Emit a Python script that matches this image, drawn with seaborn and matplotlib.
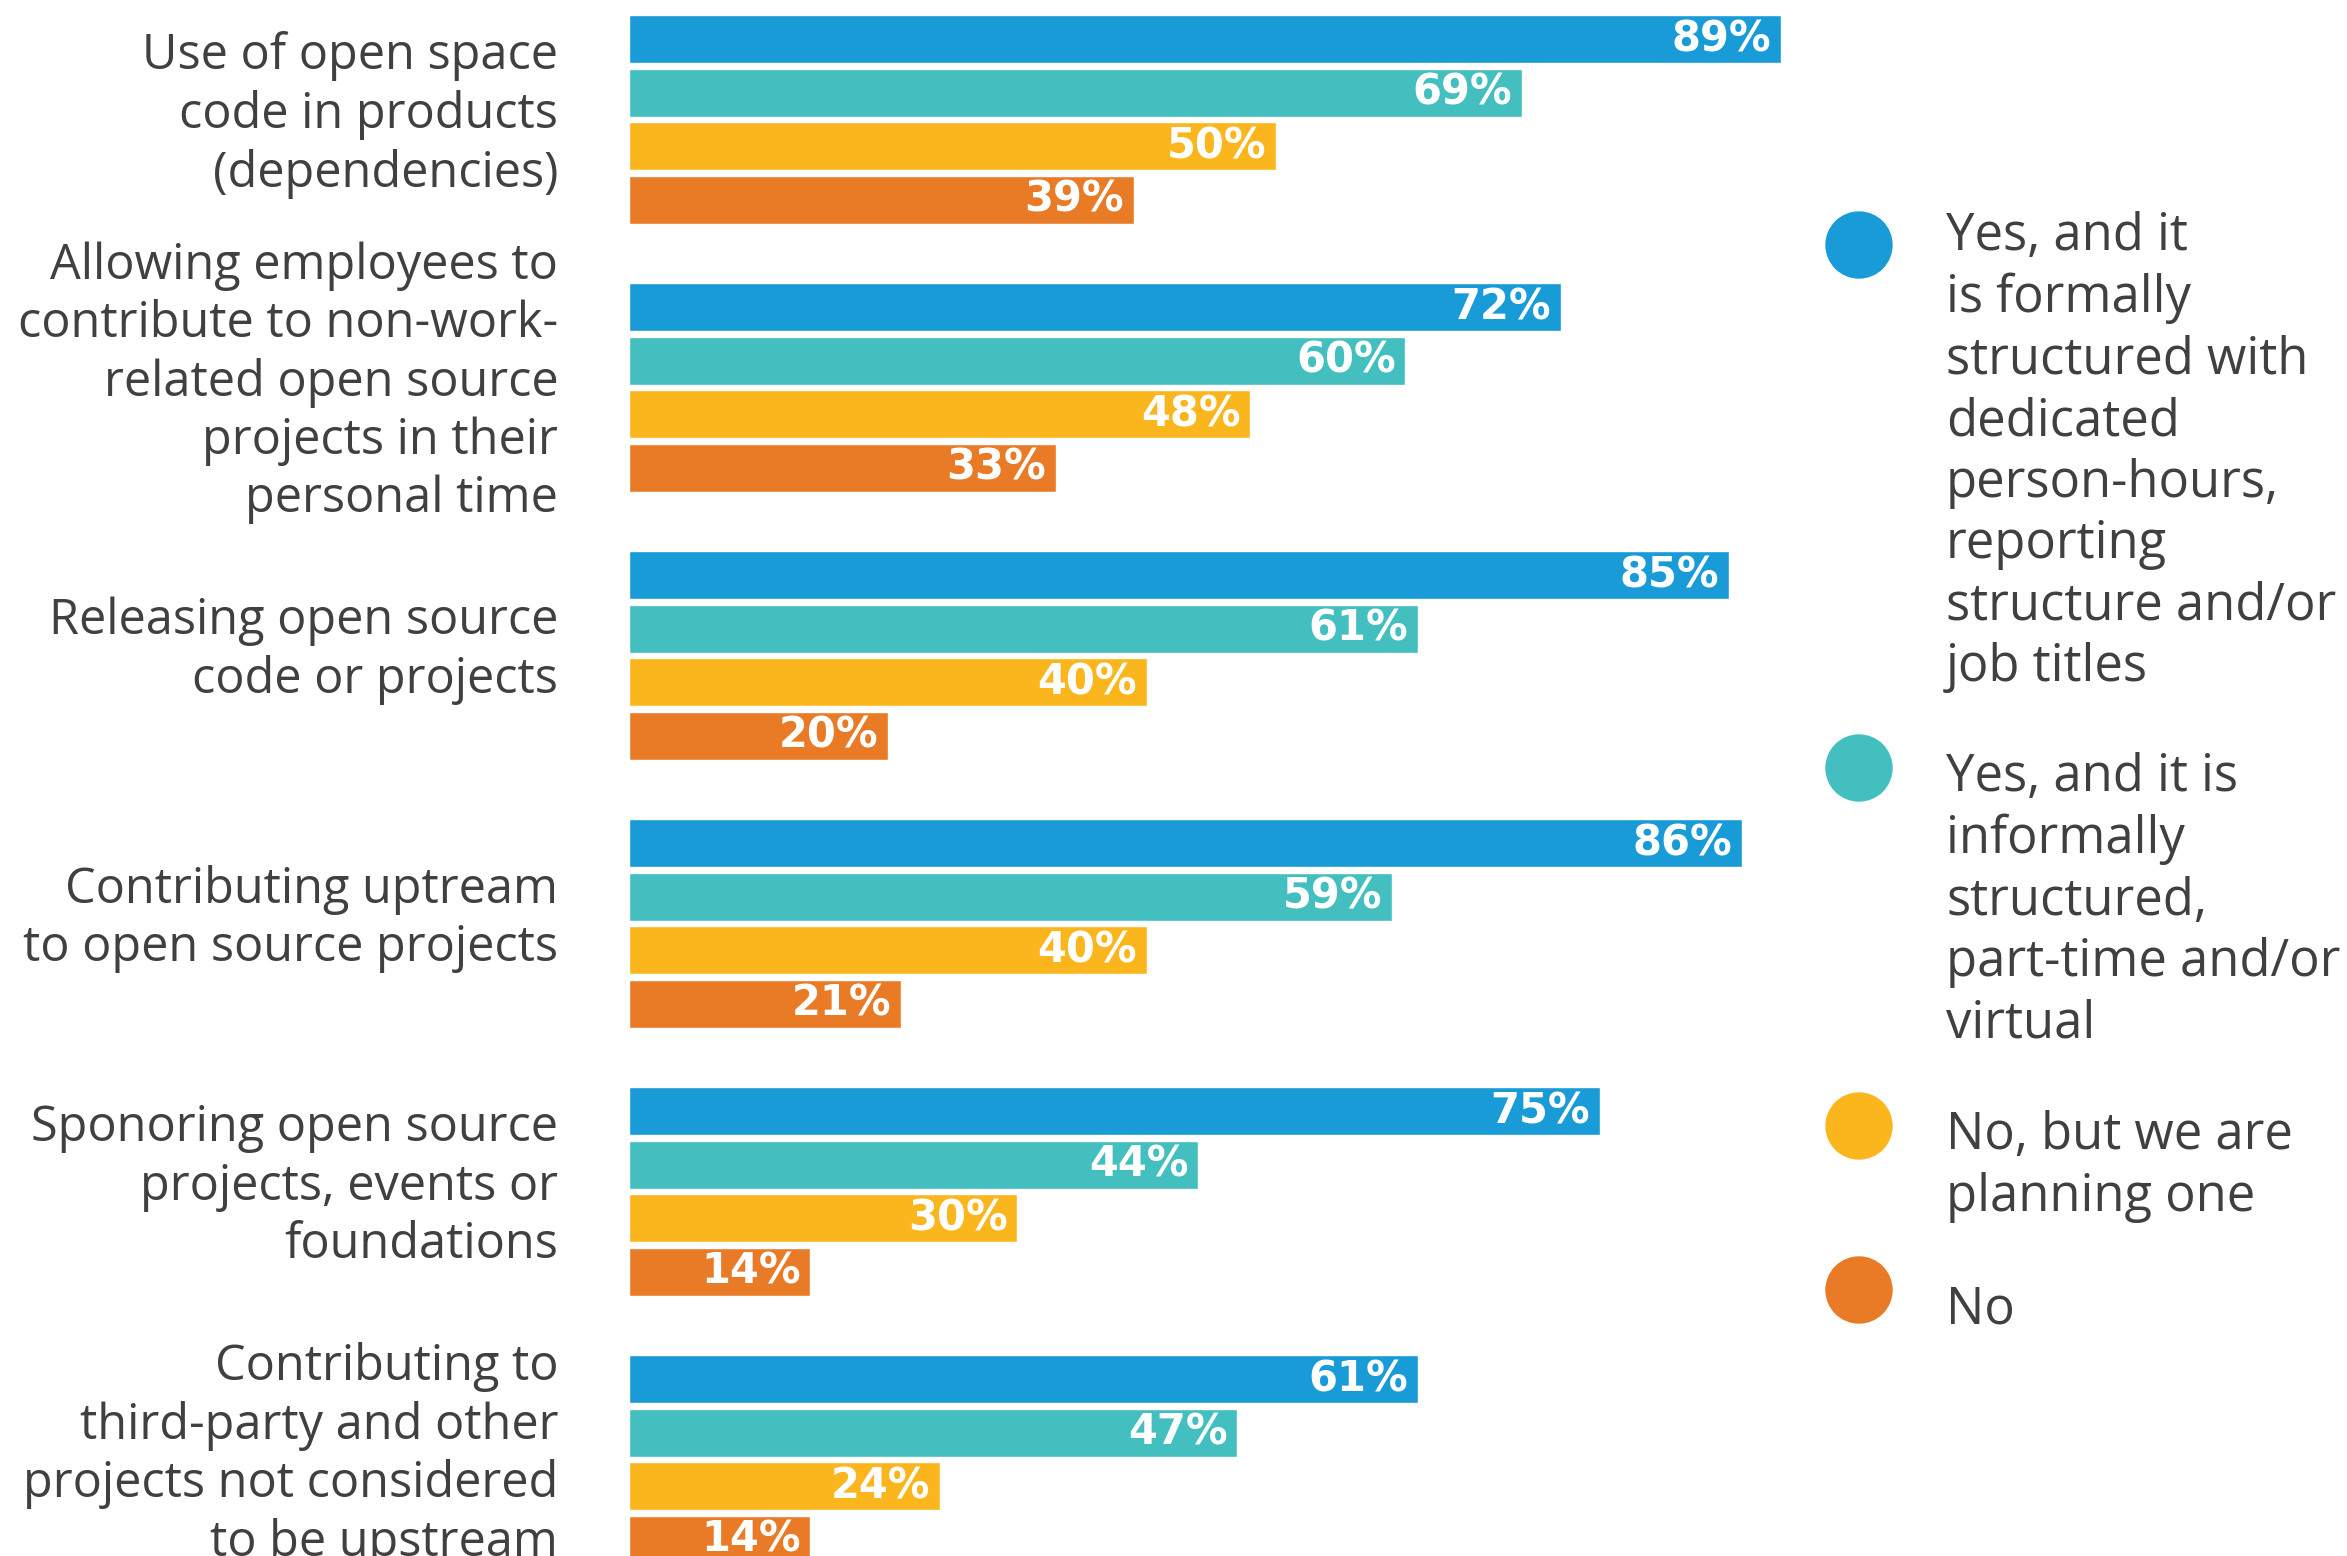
import pandas as pd
import seaborn as sns
import matplotlib.pyplot as plt
from matplotlib.patches import Circle
from matplotlib.transforms import ScaledTranslation

activities = [
    "Use of open space\ncode in products\n(dependencies)",
    "Allowing employees to\ncontribute to non-work-\nrelated open source\nprojects in their\npersonal time",
    "Releasing open source\ncode or projects",
    "Contributing uptream\nto open source projects",
    "Sponoring open source\nprojects, events or\nfoundations",
    "Contributing to\nthird-party and other\nprojects not considered\nto be upstream",
]
responses = [
    "Yes, and it\nis formally\nstructured with\ndedicated\nperson-hours,\nreporting\nstructure and/or\njob titles",
    "Yes, and it is\ninformally\nstructured,\npart-time and/or\nvirtual",
    "No, but we are\nplanning one",
    "No",
]
formal = [89, 72, 85, 86, 75, 61]
informal = [69, 60, 61, 59, 44, 47]
planning = [50, 48, 40, 40, 30, 24]
no_ospo = [39, 33, 20, 21, 14, 14]
colors = ["#199BD8", "#44BFBF", "#FBB61D", "#E97A26"]

text_color = "#404040"

# long form table for seaborn
rows = []
for resp, vals in zip(responses, [formal, informal, planning, no_ospo]):
    for act, v in zip(activities, vals):
        rows.append({"activity": act, "response": resp, "pct": v})
df = pd.DataFrame(rows)

sns.set_style("white")
plt.rcParams["font.family"] = ["Open Sans", "DejaVu Sans"]

fig = plt.figure(figsize=(23.47, 15.56), dpi=100)
ax = fig.add_axes([629 / 2347, 0, 1294 / 2347, 1])

sns.barplot(data=df, x="pct", y="activity", hue="response", order=activities,
            hue_order=responses, palette=colors, orient="h", width=0.8, gap=0.1,
            saturation=1, legend=False, ax=ax)

ax.set_xlim(0, 100)
ax.set_ylim(5.36, -0.446)
ax.set_xlabel("")
ax.set_ylabel("")
ax.set_xticks([])
sns.despine(ax=ax, left=True, bottom=True)
ax.tick_params(axis="y", length=0, pad=51, labelsize=35, labelcolor=text_color)
shift_up = ScaledTranslation(0, 0.15, fig.dpi_scale_trans)
for lab in ax.get_yticklabels():
    lab.set_linespacing(1.23)
    lab.set_ha("right")
    lab.set_transform(lab.get_transform() + shift_up)

# value labels inside bar ends
for cont in ax.containers:
    anns = ax.bar_label(cont, labels=[f"{int(b.get_width())}%" for b in cont],
                        padding=-7, color="white", fontsize=30,
                        fontweight="bold", family="DejaVu Sans")
    for a in anns:
        a.set_ha("right")

# legend drawn by hand so the dot sits by the first line
legend_tops = [211, 752, 1110, 1285]
dot_centers = [245, 768, 1126, 1290]
for resp, col, top, dc in zip(responses, colors, legend_tops, dot_centers):
    fig.add_artist(Circle((18.59, (1556 - dc) / 100), 0.33, color=col,
                          transform=fig.dpi_scale_trans))
    fig.text(1946 / 2347, 1 - top / 1556, resp, ha="left", va="top",
             fontsize=36.5, color=text_color, linespacing=1.27)

fig.savefig("out.png", dpi=100)
